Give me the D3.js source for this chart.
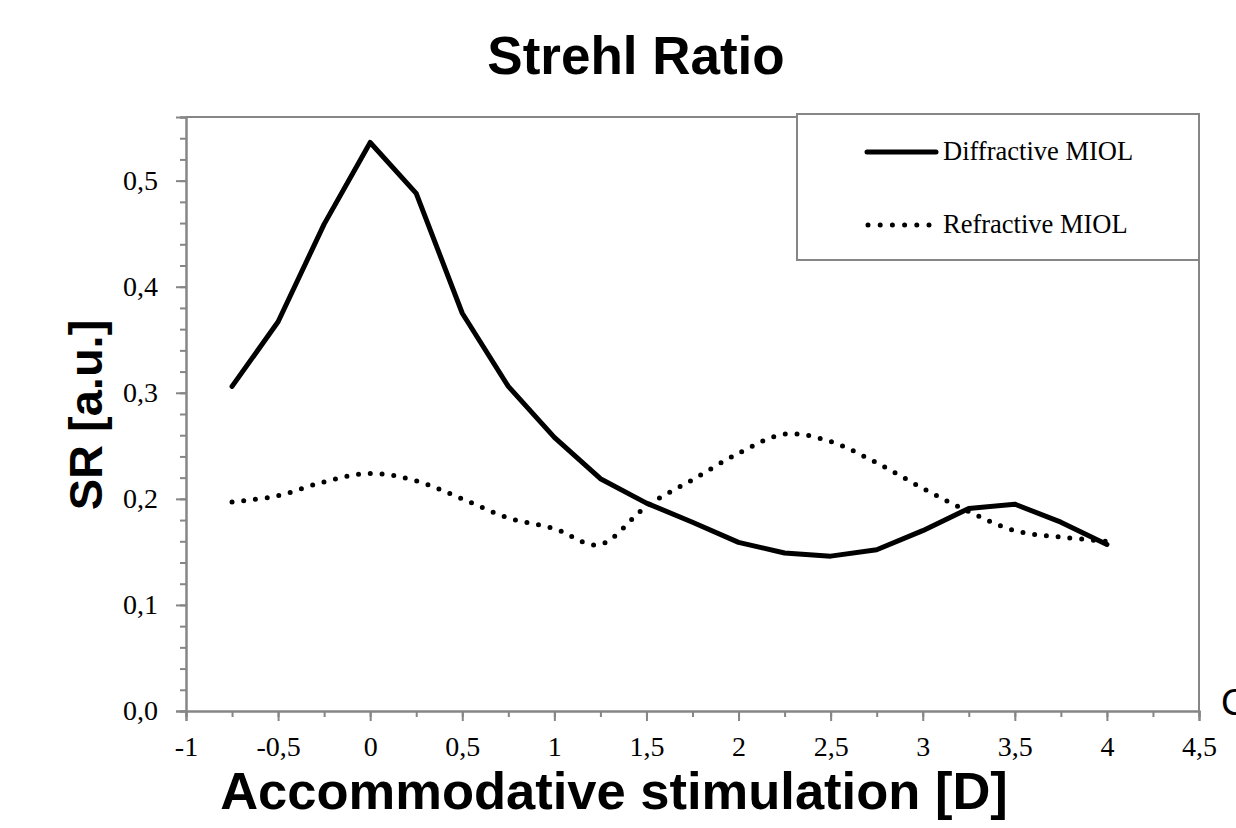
<!DOCTYPE html>
<html><head><meta charset="utf-8">
<script src="https://cdn.jsdelivr.net/npm/d3@7"></script>
<style>body{margin:0;background:#fff;} svg{display:block;}</style>
</head><body>
<svg id="c" width="1236" height="828"></svg>
<script>
const xValues = [-0.75,-0.5,-0.25,0,0.25,0.5,0.75,1,1.25,1.5,1.75,2,2.25,2.5,2.75,3,3.25,3.5,3.75,4];
const diffractive = [0.306,0.367,0.459,0.536,0.488,0.375,0.306,0.258,0.219,0.196,0.178,0.159,0.149,0.146,0.152,0.170,0.191,0.195,0.178,0.157];
const refractive = [0.197,0.203,0.216,0.224,0.217,0.200,0.182,0.172,0.157,0.193,0.218,0.243,0.261,0.254,0.234,0.210,0.188,0.170,0.164,0.160];
const seriesNames = ["Diffractive MIOL","Refractive MIOL"];
const xTicks = [-1,-0.5,0,0.5,1,1.5,2,2.5,3,3.5,4,4.5];
const yTicks = [0,0.1,0.2,0.3,0.4,0.5];
const title = "Strehl Ratio";
const xTitle = "Accommodative stimulation [D]";
const yTitle = "SR [a.u.]";

const svg = d3.select("#c");
const L=186, R=1199, T=117, B=711;
const x = d3.scaleLinear().domain([-1,4.5]).range([L,R]);
const y = d3.scaleLinear().domain([0,0.56]).range([B,T]);
const axisColor = "#868686";
const serif = "'Liberation Serif', 'Times New Roman', serif";
const sans = "'Liberation Sans', Arial, sans-serif";
const yFmt = v => d3.format(".1f")(v).replace(".", ",");
const xFmt = v => (Number.isInteger(v) ? String(v) : String(v).replace(".", ",")).replace("\u2212","-");

// plot frame (top, right)
svg.append("path").attr("d",`M${L},${T}H${R}V${B}`).attr("fill","none").attr("stroke",axisColor).attr("stroke-width",2);

// y axis
const yAx = svg.append("g").attr("transform",`translate(${L},0)`)
  .call(d3.axisLeft(y).tickValues(d3.range(0,0.5601,0.02)).tickSize(6).tickFormat(""));
const yMaj = svg.append("g").attr("transform",`translate(${L},0)`)
  .call(d3.axisLeft(y).tickValues(yTicks).tickSize(10).tickPadding(18).tickFormat(yFmt));
// x axis
const xAx = svg.append("g").attr("transform",`translate(0,${B})`)
  .call(d3.axisBottom(x).tickValues(d3.range(-1,4.501,0.25)).tickSize(6).tickFormat(""));
const xMaj = svg.append("g").attr("transform",`translate(0,${B})`)
  .call(d3.axisBottom(x).tickValues(xTicks).tickSize(10).tickPadding(15).tickFormat(xFmt));
[yAx,yMaj,xAx,xMaj].forEach(g=>{
  g.selectAll("path,line").attr("stroke",axisColor).attr("stroke-width",2);
  g.selectAll("text").attr("font-family",serif).attr("font-size",28).attr("fill","#000");
});

// lines
svg.append("path").datum(refractive)
  .attr("d", d3.line().x((d,i)=>x(xValues[i])).y(d=>y(d)).curve(d3.curveCatmullRom.alpha(0)))
  .attr("fill","none").attr("stroke","#000").attr("stroke-width",5)
  .attr("stroke-linecap","round").attr("stroke-dasharray","0 11.8");
svg.append("path").datum(diffractive)
  .attr("d", d3.line().x((d,i)=>x(xValues[i])).y(d=>y(d)))
  .attr("fill","none").attr("stroke","#000").attr("stroke-width",5)
  .attr("stroke-linejoin","round").attr("stroke-linecap","round");

// legend
const lg = svg.append("g");
lg.append("rect").attr("x",797).attr("y",114).attr("width",402).attr("height",146)
  .attr("fill","#fff").attr("stroke",axisColor).attr("stroke-width",2);
lg.append("line").attr("x1",867).attr("x2",936).attr("y1",152).attr("y2",152)
  .attr("stroke","#000").attr("stroke-width",5).attr("stroke-linecap","round");
lg.append("line").attr("x1",868).attr("x2",936).attr("y1",225).attr("y2",225)
  .attr("stroke","#000").attr("stroke-width",5).attr("stroke-linecap","round").attr("stroke-dasharray","0 12.2");
lg.selectAll("text.l").data(seriesNames).join("text")
  .attr("x",943).attr("y",(d,i)=>i===0?160:233)
  .attr("font-family",serif).attr("font-size",26.5).text(d=>d);

// titles
svg.append("text").attr("x",636).attr("y",74).attr("text-anchor","middle")
  .attr("font-family",sans).attr("font-weight","bold").attr("font-size",53).text(title);
svg.append("text").attr("x",614).attr("y",809).attr("text-anchor","middle")
  .attr("font-family",sans).attr("font-weight","bold").attr("font-size",52.5).text(xTitle);
svg.append("text").attr("transform","translate(102,415) rotate(-90)").attr("text-anchor","middle")
  .attr("font-family",sans).attr("font-weight","bold").attr("font-size",47).text(yTitle);
svg.append("text").attr("x",1221).attr("y",715)
  .attr("font-family",sans).attr("font-size",37).text("C");
</script>
</body></html>
